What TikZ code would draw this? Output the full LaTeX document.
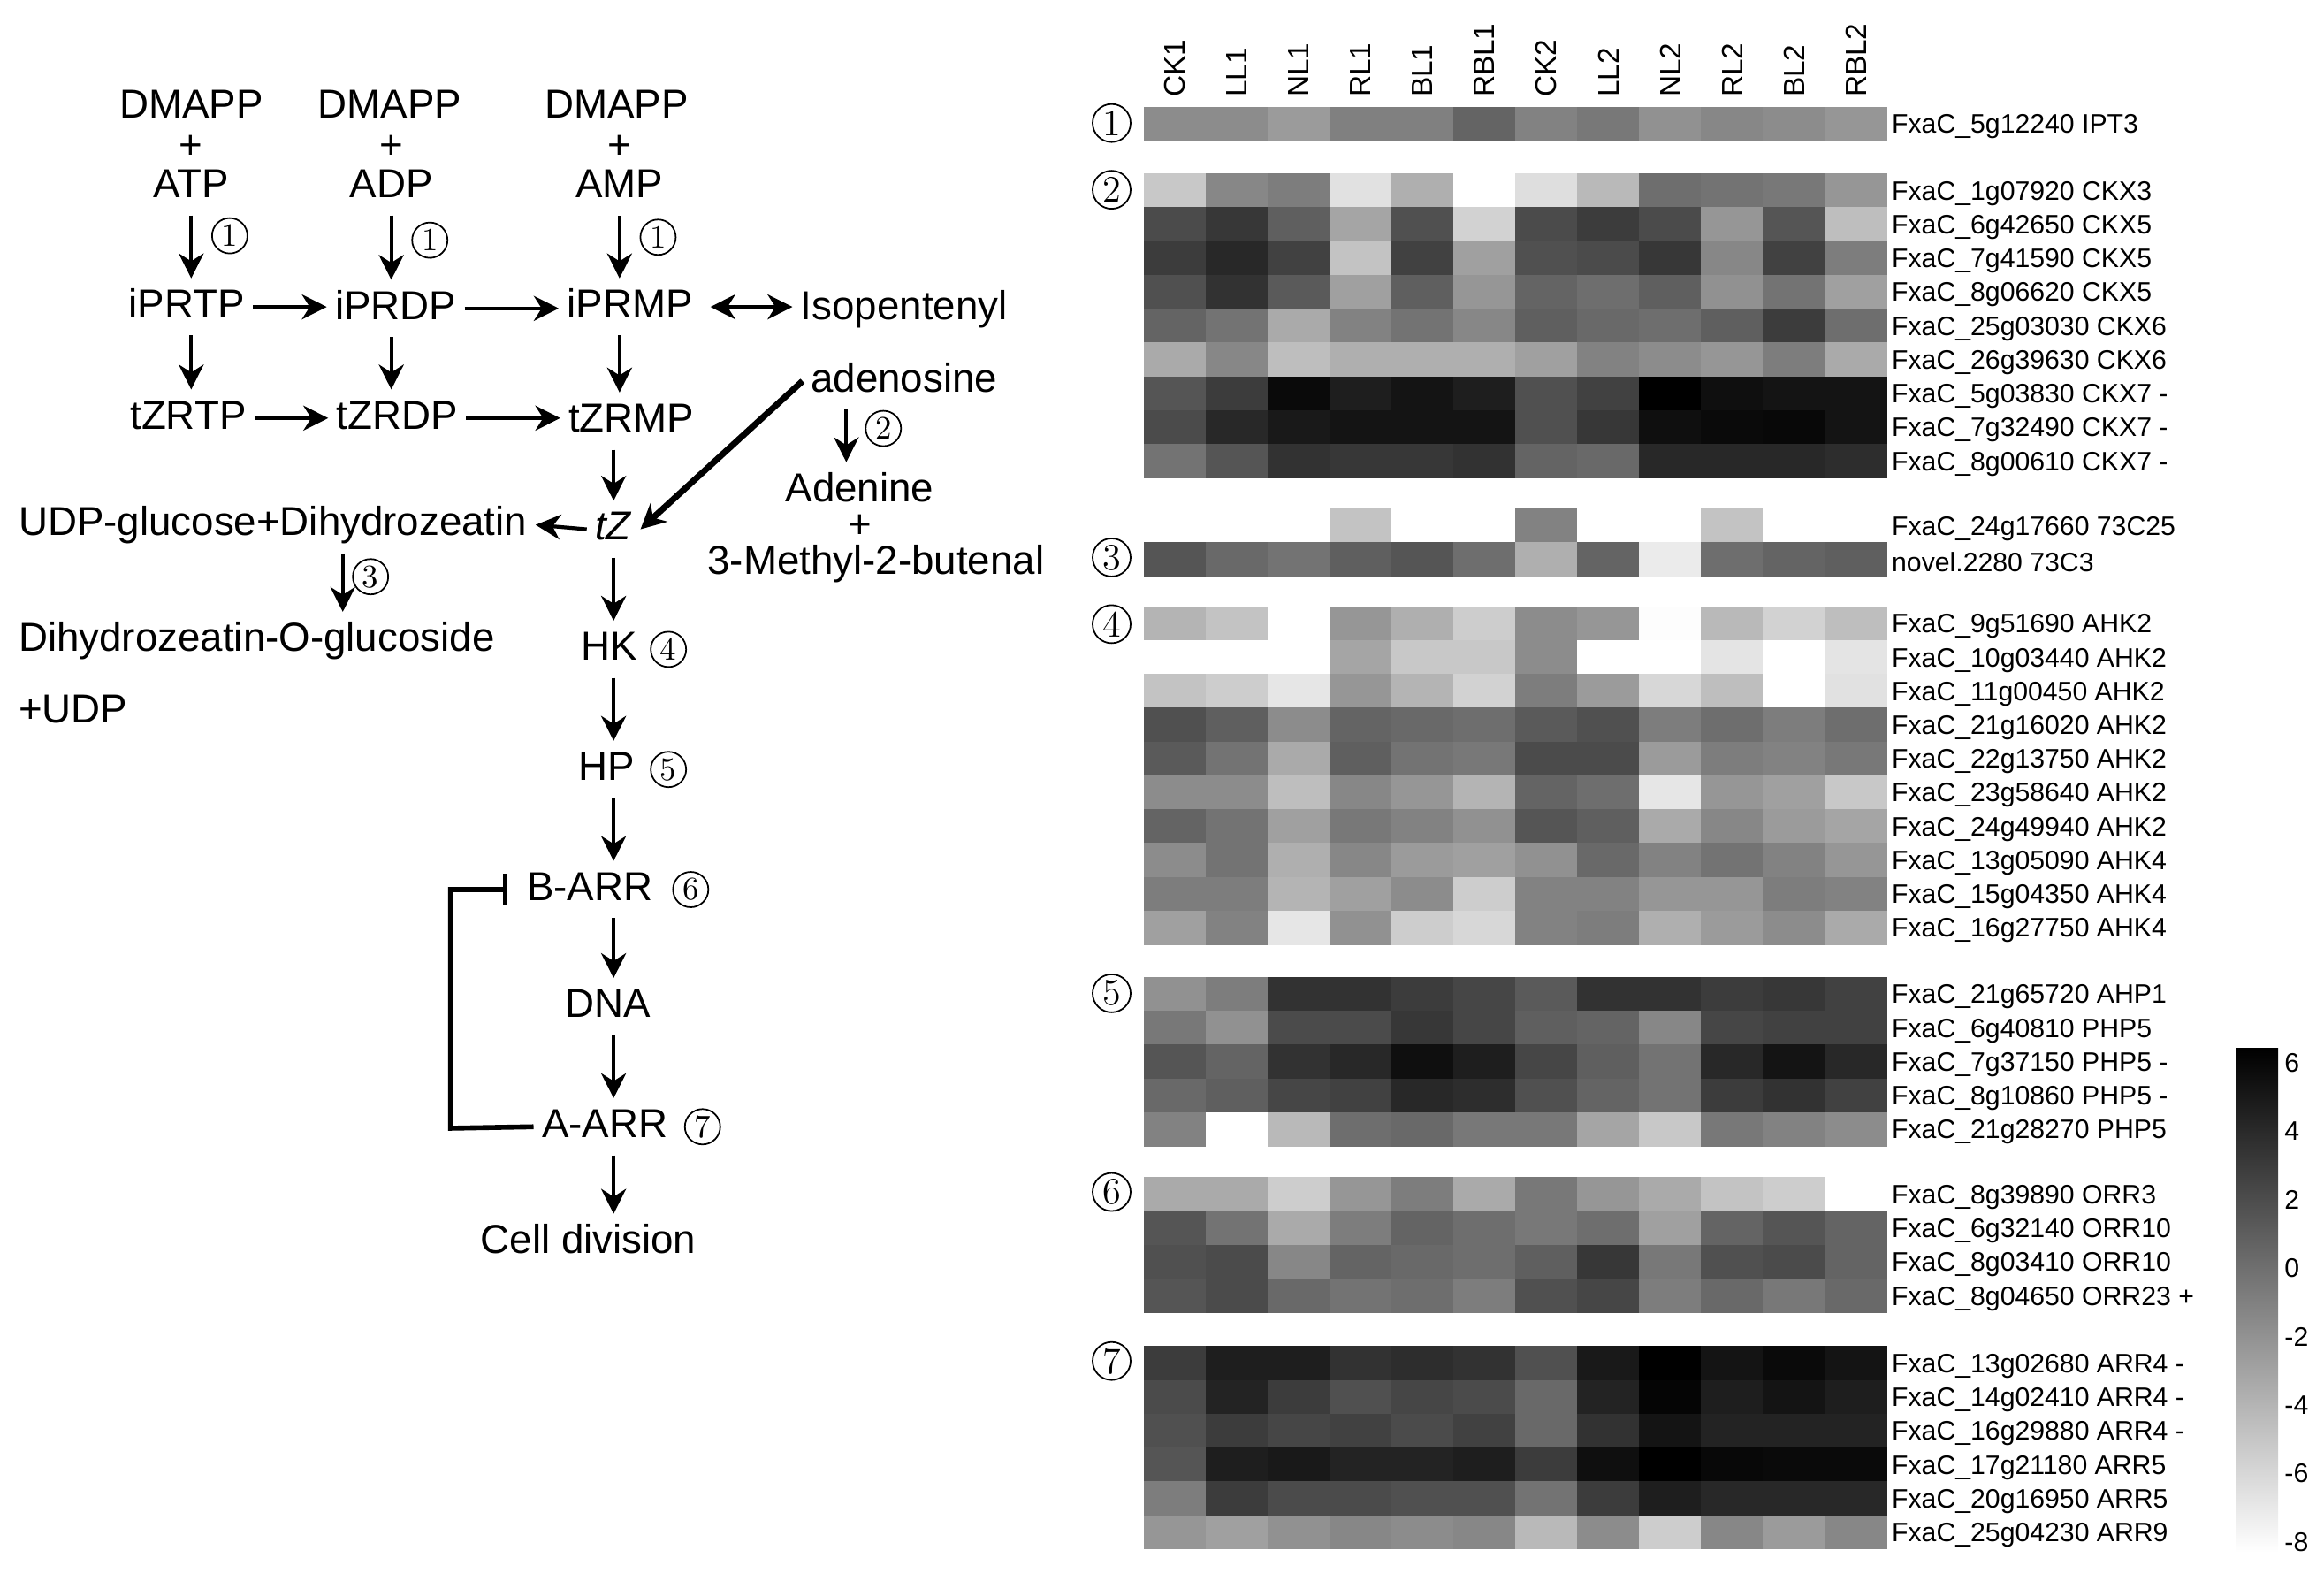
\documentclass[tikz,border=0pt]{standalone}
\usepackage{fontspec}
\newfontfamily\arial{Liberation Sans}
\usetikzlibrary{arrows.meta}

\tikzset{
  lbl/.style={font=\arial\fontsize{13}{15}\selectfont,inner sep=2.5pt,text height=10pt,text depth=3pt},
  plus/.style={font=\arial\fontsize{13}{15}\selectfont,inner sep=0pt},
  circ/.style={shape=circle,draw=black,line width=0.5pt,inner sep=0pt,minimum size=0.4cm,font=\fontsize{10.5}{11}\selectfont},
  gcirc/.style={shape=circle,draw=black,line width=0.5pt,inner sep=0pt,minimum size=0.43cm,font=\fontsize{12}{12}\selectfont},
  arr/.style={-{Stealth[length=8pt,width=8pt,inset=2.5pt]},line width=1.2pt},
  dblarr/.style={{Stealth[length=8pt,width=8pt,inset=2.5pt]}-{Stealth[length=8pt,width=8pt,inset=2.5pt]},line width=1.2pt,shorten <=3pt},
  thickarr/.style={-{Stealth[length=8pt,width=8pt,inset=2.5pt]},line width=2pt},
  inhib/.style={-{Bar[width=10pt]},line width=1.6pt,shorten >=3.5pt},
  rowlab/.style={anchor=west,inner sep=0pt,font=\arial\fontsize{8.6}{10}\selectfont},
  collab/.style={anchor=west,rotate=90,inner sep=0pt,font=\arial\fontsize{9.5}{10}\selectfont},
  cblab/.style={anchor=west,inner sep=0pt,font=\arial\fontsize{8.6}{10}\selectfont}
}

\newcommand\hmrow[4]{%
  \foreach \g [count=\c from 0] in {#3}{%
    \definecolor{cellc}{RGB}{\g,\g,\g}%
    \fill[cellc] (772+\c*41.75,#2) rectangle ++(42.2,23.2);}
  \node[rowlab] (#1) at (1276,#2+13.5) {#4};}

\begin{document}
\begin{tikzpicture}[x=0.016767cm,y=-0.016767cm]
\useasboundingbox (0,0) rectangle (1568,1066);

\node[lbl] (dmappA) at (129,72) {DMAPP};
\node[plus] (plusA) at (129,99) {+};
\node[lbl] (atp) at (129,126) {ATP};
\node[lbl] (dmappB) at (263,72) {DMAPP};
\node[plus] (plusB) at (264,99) {+};
\node[lbl] (adp) at (264,126) {ADP};
\node[lbl] (dmappC) at (416,72) {DMAPP};
\node[plus] (plusC) at (418,99) {+};
\node[lbl] (amp) at (418,126) {AMP};
\node[circ] (c1a) at (155,159) {1};
\node[circ] (c1b) at (290,162) {1};
\node[circ] (c1c) at (444,160) {1};

\node[lbl] (iprtp) at (126,207) {iPRTP};
\node[lbl] (iprdp) at (267,208) {iPRDP};
\node[lbl] (iprmp) at (425,207) {iPRMP};
\node[lbl] (isopent) at (610,208) {Isopentenyl};
\node[lbl] (tzrtp) at (127,282) {tZRTP};
\node[lbl] (tzrdp) at (268,282) {tZRDP};
\node[lbl] (tzrmp) at (426,284) {tZRMP};

\node[lbl] (adenosine) at (610,257) {adenosine};
\node[circ] (c2) at (596,289) {2};
\node[lbl] (adenine) at (580,331) {Adenine};
\node[plus] (plusD) at (580,355) {+};
\node[lbl,inner sep=0pt] (butenal) at (591,380) {3-Methyl-2-butenal};

\node[lbl] (tz) at (414,357) {\textit{tZ}};
\node[lbl,anchor=west] (udpglu) at (7,354) {UDP-glucose+Dihydrozeatin};
\node[circ] (c3) at (250,389) {3};
\node[lbl,anchor=west] (dhzog) at (7,432) {Dihydrozeatin-O-glucoside};
\node[lbl,anchor=west] (udp) at (7,480) {+UDP};

\node[lbl] (hk) at (411,438) {HK};
\node[circ] (c4) at (451,438) {4};
\node[lbl] (hp) at (409,519) {HP};
\node[circ] (c5) at (451,519) {5};
\node[lbl] (barr) at (398,600) {B-ARR};
\node[circ] (c6) at (466,600) {6};
\node[lbl] (dna) at (410,679) {DNA};
\node[lbl] (aarr) at (408,760) {A-ARR};
\node[circ] (c7) at (474,760) {7};
\node[lbl] (celldiv) at (397,838) {Cell division};

\coordinate (c3x) at ([xshift=-3pt]c3.west);
\coordinate (c2x) at ([xshift=-6pt]c2.west);
\coordinate (fb) at (304,761);

\draw[arr] (atp.south) -- (atp.south |- iprtp.north);
\draw[arr] (adp.south) -- (adp.south |- iprdp.north);
\draw[arr] (amp.south) -- (amp.south |- iprmp.north);
\draw[arr] (iprtp.east) -- (iprtp.east -| iprdp.west);
\draw[arr] (iprdp.east) -- (iprdp.east -| iprmp.west);
\draw[dblarr] (iprmp.east) -- (iprmp.east -| isopent.west);
\draw[arr] (atp |- iprtp.south) -- (atp |- tzrtp.north);
\draw[arr] (adp |- iprdp.south) -- (adp |- tzrdp.north);
\draw[arr] (amp |- iprmp.south) -- (amp |- tzrmp.north);
\draw[arr] (tzrtp.east) -- (tzrtp.east -| tzrdp.west);
\draw[arr] (tzrdp.east) -- (tzrdp.east -| tzrmp.west);
\draw[arr] (c2x |- adenosine.south) -- (c2x |- adenine.north);
\draw[arr] (tz |- tzrmp.south) -- (tz.north);
\draw[thickarr] (adenosine.west) -- (tz.east);
\draw[arr] (tz.west) -- (udpglu.east);
\draw[arr] (c3x |- udpglu.south) -- (c3x |- dhzog.north);
\draw[arr] (tz.south) -- (tz.south |- hk.north);
\draw[arr] (tz |- hk.south) -- (tz |- hp.north);
\draw[arr] (tz |- hp.south) -- (tz |- barr.north);
\draw[arr] (tz |- barr.south) -- (tz |- dna.north);
\draw[arr] (tz |- dna.south) -- (tz |- aarr.north);
\draw[arr] (tz |- aarr.south) -- (tz |- celldiv.north);
\draw[inhib] (aarr.west) -- (fb) |- (barr.west);

\foreach \s [count=\c from 0] in {CK1,LL1,NL1,RL1,BL1,RBL1,CK2,LL2,NL2,RL2,BL2,RBL2}
  \node[collab] (col\c) at (792.9+\c*41.75,66) {\s};

\node[gcirc] (g1) at (750,83) {1};
\hmrow{r1}{72}{140,140,155,128,128,100,130,120,145,135,140,150}{FxaC\_5g12240 IPT3}

\node[gcirc] (g2) at (750,128) {2};
\hmrow{r2}{117}{200,135,125,225,175,255,222,185,110,115,120,150}{FxaC\_1g07920 CKX3}
\hmrow{r3}{139.8}{75,55,95,165,80,210,75,60,75,150,85,190}{FxaC\_6g42650 CKX5}
\hmrow{r4}{162.6}{60,40,65,195,65,160,80,75,55,135,65,125}{FxaC\_7g41590 CKX5}
\hmrow{r5}{185.4}{80,50,90,160,95,150,100,110,95,145,115,160}{FxaC\_8g06620 CKX5}
\hmrow{r6}{208.2}{100,115,170,130,115,135,95,105,110,95,60,110}{FxaC\_25g03030 CKX6}
\hmrow{r7}{231}{170,135,190,175,175,175,160,130,140,150,125,170}{FxaC\_26g39630 CKX6}
\hmrow{r8}{253.8}{85,60,10,30,20,30,80,65,0,15,20,20}{FxaC\_5g03830 CKX7 -}
\hmrow{r9}{276.6}{75,40,25,20,20,20,80,55,15,10,8,20}{FxaC\_7g32490 CKX7 -}
\hmrow{r10}{299.4}{115,85,50,55,55,50,100,105,40,40,40,45}{FxaC\_8g00610 CKX7 -}

\node[gcirc] (g3) at (750,376) {3};
\hmrow{r11}{343}{255,255,255,195,255,255,130,255,255,195,255,255}{FxaC\_24g17660 73C25}
\hmrow{r12}{365.8}{85,105,115,95,85,110,175,100,235,110,100,95}{novel.2280 73C3}

\node[gcirc] (g4) at (750,421) {4};
\hmrow{r13}{409}{180,195,255,150,175,205,140,150,253,185,210,190}{FxaC\_9g51690 AHK2}
\hmrow{r14}{431.8}{255,255,255,165,200,200,140,255,255,228,255,228}{FxaC\_10g03440 AHK2}
\hmrow{r15}{454.6}{195,205,230,150,180,210,125,155,215,190,255,225}{FxaC\_11g00450 AHK2}
\hmrow{r16}{477.4}{80,95,140,100,105,110,90,80,125,110,125,110}{FxaC\_21g16020 AHK2}
\hmrow{r17}{500.2}{90,115,170,95,115,120,75,75,155,125,130,120}{FxaC\_22g13750 AHK2}
\hmrow{r18}{523}{140,140,190,135,150,180,100,110,230,150,160,200}{FxaC\_23g58640 AHK2}
\hmrow{r19}{545.8}{100,115,160,120,130,145,85,95,170,135,155,165}{FxaC\_24g49940 AHK2}
\hmrow{r20}{568.6}{140,115,175,135,155,160,145,105,130,115,130,150}{FxaC\_13g05090 AHK4}
\hmrow{r21}{591.4}{125,125,180,160,140,205,130,130,150,150,125,130}{FxaC\_15g04350 AHK4}
\hmrow{r22}{614.2}{160,130,230,145,205,215,130,125,175,155,140,170}{FxaC\_16g27750 AHK4}

\node[gcirc] (g5) at (750,670) {5};
\hmrow{r23}{659}{145,125,50,50,60,70,90,50,50,60,55,65}{FxaC\_21g65720 AHP1}
\hmrow{r24}{681.8}{120,145,75,75,55,70,95,100,135,70,65,65}{FxaC\_6g40810 PHP5}
\hmrow{r25}{704.6}{85,100,50,40,15,30,70,95,115,40,20,40}{FxaC\_7g37150 PHP5 -}
\hmrow{r26}{727.4}{105,95,70,65,40,45,80,100,115,60,50,65}{FxaC\_8g10860 PHP5 -}
\hmrow{r27}{750.2}{130,255,185,110,105,120,120,165,200,120,130,140}{FxaC\_21g28270 PHP5}

\node[gcirc] (g6) at (750,804) {6};
\hmrow{r28}{794}{170,170,205,150,125,170,120,150,170,195,205,255}{FxaC\_8g39890 ORR3}
\hmrow{r29}{816.8}{85,115,170,125,100,110,120,110,160,100,85,100}{FxaC\_6g32140 ORR10}
\hmrow{r30}{839.6}{80,75,135,100,105,110,95,55,120,80,75,100}{FxaC\_8g03410 ORR10}
\hmrow{r31}{862.4}{85,75,105,115,110,125,80,70,125,105,120,105}{FxaC\_8g04650 ORR23 +}

\node[gcirc] (g7) at (750,918) {7};
\hmrow{r32}{908}{60,30,30,50,45,50,80,25,0,20,10,20}{FxaC\_13g02680 ARR4 -}
\hmrow{r33}{930.8}{75,35,60,80,70,75,105,35,5,30,20,30}{FxaC\_14g02410 ARR4 -}
\hmrow{r34}{953.6}{80,60,70,65,75,65,105,50,20,35,35,35}{FxaC\_16g29880 ARR4 -}
\hmrow{r35}{976.4}{85,30,25,35,35,30,60,15,0,8,10,10}{FxaC\_17g21180 ARR5}
\hmrow{r36}{999.2}{125,60,75,75,80,80,115,60,30,40,40,40}{FxaC\_20g16950 ARR5}
\hmrow{r37}{1022}{150,160,145,135,140,135,185,140,205,135,155,135}{FxaC\_25g04230 ARR9}

\shade[top color=black,bottom color=white] (1509,707) rectangle (1537,1047);
\foreach \v [count=\i from 0] in {6,4,2,0,-2,-4,-6,-8}
  \node[cblab] (cb\i) at (1541,717+\i*46.14) {\v};
\end{tikzpicture}
\end{document}
